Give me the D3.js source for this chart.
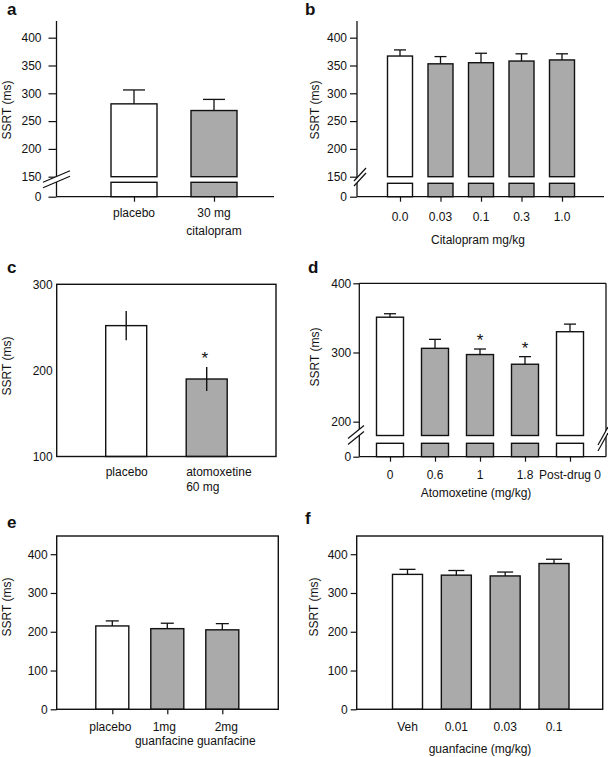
<!DOCTYPE html>
<html><head><meta charset="utf-8">
<script src="https://cdn.jsdelivr.net/npm/d3@7"></script>
<style>
body{margin:0;background:#fff;}
svg{display:block;font-family:"Liberation Sans",Arial,Helvetica,sans-serif;}
</style></head><body>
<svg id="chart" width="608" height="757"></svg>
<script>
// ---------- DATA ----------
// Panel a
const aCategories = ["placebo", "30 mg|citalopram"];
const aMeans = [281, 269];
const aErrors = [25, 20];
const aIsDrug = [false, true];
const aUpperTicks = [150, 200, 250, 300, 350, 400];
const aLowerTicks = [0];
// Panel b
const bCategories = ["0.0", "0.03", "0.1", "0.3", "1.0"];
const bMeans = [367, 353, 355, 358, 360];
const bErrors = [11, 13, 17, 13, 11];
const bIsDrug = [false, true, true, true, true];
const bUpperTicks = [150, 200, 250, 300, 350, 400];
const bLowerTicks = [0];
const bTitle = "Citalopram mg/kg";
// Panel c
const cCategories = ["placebo", "atomoxetine|60 mg"];
const cMeans = [252, 190];
const cErrors = [17, 14];
const cIsDrug = [false, true];
const cSignificant = [false, true];
const cTicks = [100, 200, 300];
// Panel d
const dCategories = ["0", "0.6", "1", "1.8", "Post-drug 0"];
const dMeans = [351, 306, 297, 283, 330];
const dErrors = [5, 13, 8, 11, 11];
const dIsDrug = [false, true, true, true, false];
const dSignificant = [false, false, true, true, false];
const dUpperTicks = [200, 300, 400];
const dLowerTicks = [0];
const dTitle = "Atomoxetine (mg/kg)";
// Panel e
const eCategories = ["placebo", "1mg|guanfacine", "2mg|guanfacine"];
const eMeans = [215, 208, 205];
const eErrors = [13, 14, 16];
const eIsDrug = [false, true, true];
const eTicks = [0, 100, 200, 300, 400];
// Panel f
const fCategories = ["Veh", "0.01", "0.03", "0.1"];
const fMeans = [348, 346, 344, 376];
const fErrors = [13, 12, 10, 11];
const fIsDrug = [false, true, true, true];
const fTicks = [0, 100, 200, 300, 400];
const fTitle = "guanfacine (mg/kg)";

const yTitleText = "SSRT (ms)";

// ---------- STYLE ----------
const GRAY = "#aaaaaa";
const INK = "#111";
const svg = d3.select("#chart");

function letter(x, y, s) {
  svg.append("text").attr("x", x).attr("y", y).attr("font-size", 17)
    .attr("font-weight", "bold").attr("fill", INK).text(s);
}
function yTitle(x, y) {
  svg.append("text").attr("transform", `translate(${x},${y}) rotate(-90)`)
    .attr("text-anchor", "middle").attr("font-size", 12).attr("fill", INK).text(yTitleText);
}
function line(g, x1, y1, x2, y2, w) {
  g.append("line").attr("x1", x1).attr("y1", y1).attr("x2", x2).attr("y2", y2)
    .attr("stroke", INK).attr("stroke-width", w || 1.3);
}
function breakMark(g, cx, cy, w, h, gap) {
  const p = [[cx - w/2, cy + h/2 - gap/2], [cx + w/2, cy - h/2 - gap/2],
             [cx + w/2, cy - h/2 + gap/2], [cx - w/2, cy + h/2 + gap/2]];
  g.append("polygon").attr("points", p.map(d => d.join(",")).join(" ")).attr("fill", "#fff");
  line(g, p[0][0], p[0][1], p[1][0], p[1][1], 1.2);
  line(g, p[3][0], p[3][1], p[2][0], p[2][1], 1.2);
}
function xLabels(g, x, cats, y0, lineH, anchor, barW, dxs) {
  cats.forEach((c, i) => {
    const px = anchor === "start" ? x(i) - barW/2 : x(i) + (dxs ? dxs[i] : 0);
    const t = g.append("text").attr("text-anchor", anchor).attr("font-size", 12).attr("fill", INK)
      .attr("y", y0);
    c.split("|").forEach((l, j) => {
      t.append("tspan").attr("x", px).attr("dy", j ? lineH : 0).text(l);
    });
  });
}
function yAxis(g, scale, ticks, ax, size, pad) {
  const a = d3.axisLeft(scale).tickValues(ticks).tickSize(size).tickPadding(pad).tickFormat(d3.format("d"));
  const ag = g.append("g").attr("transform", `translate(${ax},0)`).call(a);
  ag.select(".domain").remove();
  ag.selectAll("line").attr("stroke", INK).attr("stroke-width", 1.2);
  ag.selectAll("text").attr("font-size", 12).attr("fill", INK)
    .attr("font-family", '"Liberation Sans",Arial,Helvetica,sans-serif');
}
function xTicks(g, x, n, y0, size) {
  const a = d3.axisBottom(x).tickValues(d3.range(n)).tickSize(size).tickFormat("");
  const ag = g.append("g").attr("transform", `translate(0,${y0})`).call(a);
  ag.select(".domain").remove();
  ag.selectAll("line").attr("stroke", INK).attr("stroke-width", 1.2);
}
function errUp(g, cx, y1, y2, capW) {
  line(g, cx, y1, cx, y2, 1.3);
  line(g, cx - capW/2, y2, cx + capW/2, y2, 1.3);
}

// ---------- BROKEN-AXIS PANEL ----------
function brokenPanel(o) {
  const g = svg.append("g");
  const n = o.cats.length;
  const x = d3.scalePoint().domain(d3.range(n)).range(o.xRange);
  const yU = d3.scaleLinear().domain(o.upDomain).range(o.upRange);
  const yL = d3.scaleLinear().domain([0, o.upDomain[0]]).range(o.lowRange);
  const bv = o.upDomain[0];
  o.means.forEach((m, i) => {
    const fill = o.drug[i] ? GRAY : "#fff";
    g.append("rect").attr("x", x(i) - o.barW/2).attr("y", yU(m))
      .attr("width", o.barW).attr("height", yU(bv) - yU(m))
      .attr("fill", fill).attr("stroke", INK).attr("stroke-width", 1.4);
    g.append("rect").attr("x", x(i) - o.barW/2).attr("y", yL(bv))
      .attr("width", o.barW).attr("height", yL(0) - yL(bv))
      .attr("fill", fill).attr("stroke", INK).attr("stroke-width", 1.4);
    errUp(g, x(i), yU(m), yU(m + o.errs[i]), o.capW);
    if (o.sig && o.sig[i]) {
      g.append("text").attr("x", x(i)).attr("y", yU(m + o.errs[i]) - 3)
        .attr("text-anchor", "middle").attr("font-size", 17).attr("fill", INK).text("*");
    }
  });
  line(g, o.axisX, yU.range()[1], o.axisX, yL(0), 1.3);
  line(g, o.axisX, yL(0), o.xEnd, yL(0), 1.3);
  if (o.frame) {
    line(g, o.axisX, yU(o.frame), o.xEnd, yU(o.frame), 1.3);
    line(g, o.xEnd, yU(o.frame), o.xEnd, yL(0), 1.3);
  }
  yAxis(g, yU, o.upTicks, o.axisX, o.tickSize, o.tickPad);
  yAxis(g, yL, o.lowTicks, o.axisX, o.tickSize, o.tickPad);
  xTicks(g, x, n, yL(0), 5);
  o.breaks.forEach(b => breakMark(g, b[0], b[1], b[2], b[3], b[4]));
  xLabels(g, x, o.cats, o.labelY, o.lineH, "middle", o.barW);
  if (o.title) g.append("text").attr("x", o.titleX).attr("y", o.titleY).attr("text-anchor", "middle")
    .attr("font-size", 12).attr("fill", INK).text(o.title);
}

// ---------- FRAMED PANEL ----------
function framedPanel(o) {
  const g = svg.append("g");
  const n = o.cats.length;
  const x = d3.scalePoint().domain(d3.range(n)).range(o.xRange);
  const y = d3.scaleLinear().domain(o.yDomain).range(o.yRange);
  const base = o.yDomain[0];
  o.means.forEach((m, i) => {
    g.append("rect").attr("x", x(i) - o.barW/2).attr("y", y(m))
      .attr("width", o.barW).attr("height", y(base) - y(m))
      .attr("fill", o.drug[i] ? GRAY : "#fff").attr("stroke", INK).attr("stroke-width", 1.4);
    if (o.bothWays) {
      line(g, x(i), y(m + o.errs[i]), x(i), y(m - o.errs[i]), 1.4);
    } else {
      errUp(g, x(i), y(m), y(m + o.errs[i]), o.capW);
    }
    if (o.sig && o.sig[i]) {
      g.append("text").attr("x", x(i) - 2).attr("y", y(m + o.errs[i]) - 3)
        .attr("text-anchor", "middle").attr("font-size", 17).attr("fill", INK).text("*");
    }
  });
  g.append("rect").attr("x", o.frameX[0]).attr("y", y(o.yDomain[1]))
    .attr("width", o.frameX[1] - o.frameX[0]).attr("height", y(base) - y(o.yDomain[1]))
    .attr("fill", "none").attr("stroke", INK).attr("stroke-width", 1.4);
  yAxis(g, y, o.ticks, o.frameX[0], o.tickSize, o.tickPad);
  if (o.xTickSize) xTicks(g, x, n, y(base), o.xTickSize);
  xLabels(g, x, o.cats, o.labelY, o.lineH, o.labelAnchor || "middle", o.barW, o.labelDx);
  if (o.title) g.append("text").attr("x", o.titleX).attr("y", o.titleY).attr("text-anchor", "middle")
    .attr("font-size", 12).attr("fill", INK).text(o.title);
}

// ---------- DRAW ----------
letter(7, 15, "a");
yTitle(11, 110);
brokenPanel({cats: aCategories, means: aMeans, errs: aErrors, drug: aIsDrug,
  xRange: [134, 214], barW: 46, capW: 22,
  upDomain: [150, 430], upRange: [176.7, 21], lowRange: [196.7, 182.3],
  upTicks: aUpperTicks, lowTicks: aLowerTicks, axisX: 56.5, xEnd: 274,
  tickSize: 8, tickPad: 7, breaks: [[56.5, 179.2, 27, 11.5, 5.5]],
  labelY: 217, lineH: 18});

letter(305, 15, "b");
yTitle(319, 110);
brokenPanel({cats: bCategories, means: bMeans, errs: bErrors, drug: bIsDrug,
  xRange: [400, 562], barW: 25, capW: 12,
  upDomain: [150, 430], upRange: [176.7, 21], lowRange: [196.7, 183.3],
  upTicks: bUpperTicks, lowTicks: bLowerTicks, axisX: 357, xEnd: 604,
  tickSize: 7, tickPad: 3, breaks: [[360, 177, 12, 13, 5]],
  labelY: 221, lineH: 18, title: bTitle, titleX: 478, titleY: 244});

letter(7, 273, "c");
yTitle(11, 366);
framedPanel({cats: cCategories, means: cMeans, errs: cErrors, drug: cIsDrug, sig: cSignificant,
  xRange: [126.2, 206.7], barW: 41, bothWays: true,
  yDomain: [100, 300], yRange: [456.5, 284.3], frameX: [56.7, 276],
  ticks: cTicks, tickSize: 0, tickPad: 4, labelAnchor: "start",
  labelY: 476, lineH: 15});

letter(308, 273, "d");
yTitle(319, 357);
brokenPanel({cats: dCategories, means: dMeans, errs: dErrors, drug: dIsDrug, sig: dSignificant,
  xRange: [390, 570], barW: 27, capW: 12,
  upDomain: [180, 400], upRange: [435.5, 283.3], lowRange: [456.7, 443.3],
  upTicks: dUpperTicks, lowTicks: dLowerTicks, axisX: 359.3, xEnd: 606, frame: 400,
  tickSize: 6, tickPad: 2, breaks: [[356, 435, 16, 13, 6], [603, 439, 10, 18, 6]],
  labelY: 479, lineH: 15, title: dTitle, titleX: 476, titleY: 497});

letter(7, 528, "e");
yTitle(11, 607);
framedPanel({cats: eCategories, means: eMeans, errs: eErrors, drug: eIsDrug,
  xRange: [112.3, 222.3], barW: 33, capW: 13,
  yDomain: [0, 447], yRange: [709.3, 536], frameX: [56.7, 278.3],
  ticks: eTicks, tickSize: 6, tickPad: 3, xTickSize: 5,
  labelY: 731, lineH: 14, labelDx: [-2, -3, 4]});

letter(305, 524, "f");
yTitle(318, 607);
framedPanel({cats: fCategories, means: fMeans, errs: fErrors, drug: fIsDrug,
  xRange: [407.5, 554], barW: 30, capW: 16,
  yDomain: [0, 447], yRange: [709.3, 536], frameX: [356.7, 602.7],
  ticks: fTicks, tickSize: 6, tickPad: 3,
  labelY: 731, lineH: 14, title: fTitle, titleX: 480, titleY: 753});
</script>
</body></html>
